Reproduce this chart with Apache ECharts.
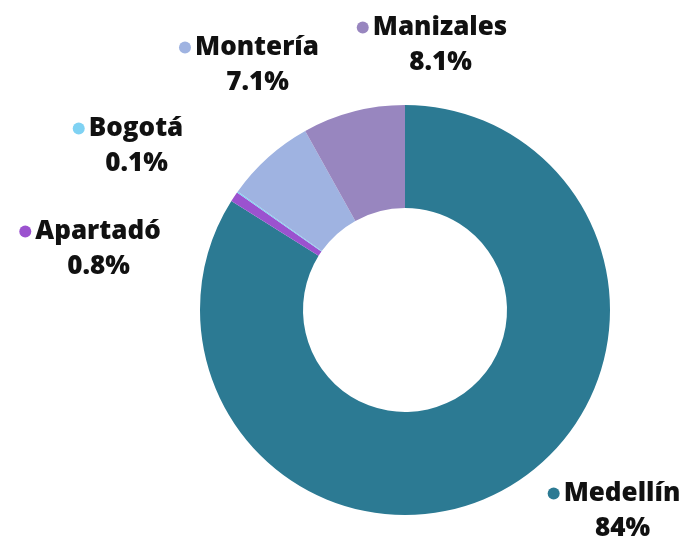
<!DOCTYPE html>
<html>
<head>
<meta charset="utf-8">
<script src="https://cdn.jsdelivr.net/npm/echarts@6/dist/echarts.min.js"></script>
<style>
  html, body { margin: 0; padding: 0; background: #fff; }
  #chart { width: 683px; height: 541px; }
</style>
</head>
<body>
<div id="chart"></div>
<script>
const cities = ["Medellín", "Apartadó", "Bogotá", "Montería", "Manizales"];
const shares = [84, 0.8, 0.1, 7.1, 8.1];
const colors = ["#2c7a93", "#9b52cf", "#7fd2f3", "#9fb3e1", "#9886bf"];

// label anchor points (centre of each label block), by city
const labelPos = [
  [614, 511],
  [90, 249],
  [128, 146],
  [249, 65],
  [432, 45],
];

const chart = echarts.init(document.getElementById("chart"));

const textStyle = {
  fontFamily: "Open Sans",
  fontWeight: 800,
  fontSize: 26,
  color: "#111",
  lineHeight: 35,
};

const options = {
  animation: false,
  series: [
    {
      type: "pie",
      center: [405, 310],
      radius: [102, 205],
      startAngle: 90,
      clockwise: true,
      data: cities.map((c, i) => ({
        name: c,
        value: shares[i],
        itemStyle: { color: colors[i] },
      })),
      label: {
        show: true,
        position: "outside",
        overflow: "none",
        formatter: (p) =>
          "{d" + p.dataIndex + "|}{name|" + p.name + "}\n{pct|" + p.value + "%}",
        rich: Object.assign(
          {
            name: Object.assign({ padding: [0, 0, 0, 4] }, textStyle),
            pct: Object.assign({ padding: [0, 0, 0, 17] }, textStyle),
          },
          Object.fromEntries(
            colors.map((c, i) => [
              "d" + i,
              {
                width: 12,
                height: 12,
                borderRadius: 6,
                backgroundColor: c,
              },
            ])
          )
        ),
      },
      labelLine: { show: false },
      labelLayout: (params) => ({
        x: labelPos[params.dataIndex][0],
        y: labelPos[params.dataIndex][1],
        align: "center",
        verticalAlign: "middle",
      }),
    },
  ],
};

chart.setOption(options);
</script>
</body>
</html>
